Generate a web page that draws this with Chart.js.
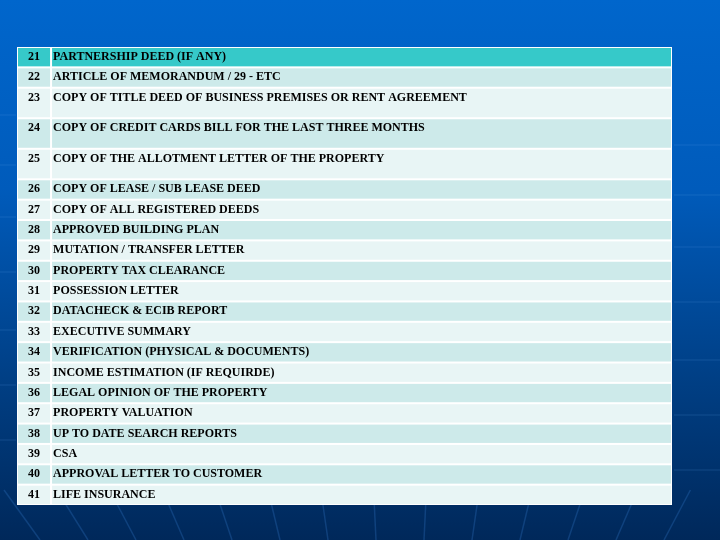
<!DOCTYPE html>
<html>
<head>
<meta charset="utf-8">
<script src="https://cdn.jsdelivr.net/npm/chart.js@4/dist/chart.umd.min.js"></script>
<style>
  html, body { margin: 0; padding: 0; background: #003c80; }
  #wrap { width: 720px; height: 540px; }
</style>
</head>
<body>
<div id="wrap"><canvas id="tableChart"></canvas></div>
<script>
// table content
const itemNumbers = [21, 22, 23, 24, 25, 26, 27, 28, 29, 30, 31, 32, 33, 34, 35, 36, 37, 38, 39, 40, 41];
const itemLabels = [
    'PARTNERSHIP DEED (IF ANY)',
    'ARTICLE OF MEMORANDUM / 29 - ETC',
    'COPY OF TITLE DEED OF BUSINESS PREMISES OR RENT AGREEMENT',
    'COPY OF CREDIT CARDS BILL FOR THE LAST THREE MONTHS',
    'COPY OF THE ALLOTMENT LETTER OF THE PROPERTY',
    'COPY OF LEASE / SUB LEASE DEED',
    'COPY OF ALL REGISTERED DEEDS',
    'APPROVED BUILDING PLAN',
    'MUTATION / TRANSFER LETTER',
    'PROPERTY TAX CLEARANCE',
    'POSSESSION LETTER',
    'DATACHECK & ECIB REPORT',
    'EXECUTIVE SUMMARY',
    'VERIFICATION (PHYSICAL & DOCUMENTS)',
    'INCOME ESTIMATION (IF REQUIRDE)',
    'LEGAL OPINION OF THE PROPERTY',
    'PROPERTY VALUATION',
    'UP TO DATE SEARCH REPORTS',
    'CSA',
    'APPROVAL LETTER TO CUSTOMER',
    'LIFE INSURANCE'
];
// items whose cell is one and a half lines tall
const tallItems = [23, 24, 25];

document.addEventListener('DOMContentLoaded', function () {
    // row extents in line units, top to bottom
    const rows = [];
    let pos = 0;
    itemNumbers.forEach(function (num, i) {
        const h = tallItems.includes(num) ? 1.5 : 1;
        rows.push({ num: num, label: itemLabels[i], from: pos, to: pos + h });
        pos += h;
    });
    const totalUnits = pos;
    const columnSplit = 0.052;

    const backgroundPlugin = {
        id: 'slideBackground',
        beforeDraw(chart) {
            const ctx = chart.ctx;
            const w = chart.width, h = chart.height;
            ctx.save();
            const g = ctx.createLinearGradient(0, 0, 0, h);
            g.addColorStop(0, '#0066cc');
            g.addColorStop(0.35, '#005bbb');
            g.addColorStop(0.7, '#003f85');
            g.addColorStop(1, '#00285a');
            ctx.fillStyle = g;
            ctx.fillRect(0, 0, w, h);
            // faint rays at the bottom
            ctx.strokeStyle = 'rgba(50,120,200,0.3)';
            ctx.lineWidth = 1.5;
            for (let i = 0; i < 14; i++) {
                const bx = 40 + i * 48;
                ctx.beginPath();
                ctx.moveTo(bx, h);
                ctx.lineTo(bx + (bx - 400) * 0.1, h - 50);
                ctx.stroke();
            }
            // faint horizontal streaks at the sides
            ctx.strokeStyle = 'rgba(90,160,230,0.2)';
            ctx.lineWidth = 1;
            [115, 165, 217, 272, 330, 385, 440].forEach(function (y) {
                ctx.beginPath();
                ctx.moveTo(0, y); ctx.lineTo(16, y);
                ctx.moveTo(674, y + 30); ctx.lineTo(720, y + 30);
                ctx.stroke();
            });
            ctx.restore();
        }
    };

    const tablePlugin = {
        id: 'tableCells',
        beforeDatasetsDraw(chart) {
            const ctx = chart.ctx;
            const xs = chart.scales.x, ys = chart.scales.y;
            const left = xs.getPixelForValue(0), right = xs.getPixelForValue(1);
            const split = xs.getPixelForValue(columnSplit);
            ctx.save();
            ctx.fillStyle = '#ffffff';
            ctx.fillRect(left, ys.getPixelForValue(0), right - left, ys.getPixelForValue(totalUnits) - ys.getPixelForValue(0));
            rows.forEach(function (r, i) {
                const top = ys.getPixelForValue(r.from);
                const bottom = ys.getPixelForValue(r.to);
                let fill;
                if (i === 0) fill = '#36c9c9';
                else fill = (r.num % 2 === 0) ? '#cdeaea' : '#e8f5f5';
                ctx.fillStyle = fill;
                ctx.fillRect(left + 1, top + 1, split - left - 2, bottom - top - 2);
                ctx.fillRect(split + 1, top + 1, right - split - 2, bottom - top - 2);
                ctx.fillStyle = '#000000';
                ctx.font = 'bold 12px "Liberation Serif", "Times New Roman", serif';
                ctx.textBaseline = 'alphabetic';
                ctx.textAlign = 'center';
                ctx.fillText(String(r.num), (left + split) / 2, top + 13);
                ctx.textAlign = 'left';
                ctx.fillText(r.label, split + 2, top + 13);
            });
            ctx.restore();
        }
    };

    new Chart(document.getElementById('tableChart').getContext('2d'), {
        type: 'scatter',
        data: { datasets: [{ data: [] }] },
        options: {
            responsive: true,
            maintainAspectRatio: false,
            animation: false,
            layout: { padding: { left: 17, top: 47, right: 48, bottom: 35 } },
            plugins: { legend: { display: false }, tooltip: { enabled: false } },
            scales: {
                x: { type: 'linear', min: 0, max: 1, display: false },
                y: { type: 'linear', min: 0, max: totalUnits, reverse: true, display: false }
            }
        },
        plugins: [backgroundPlugin, tablePlugin]
    });
});
</script>
</body>
</html>
